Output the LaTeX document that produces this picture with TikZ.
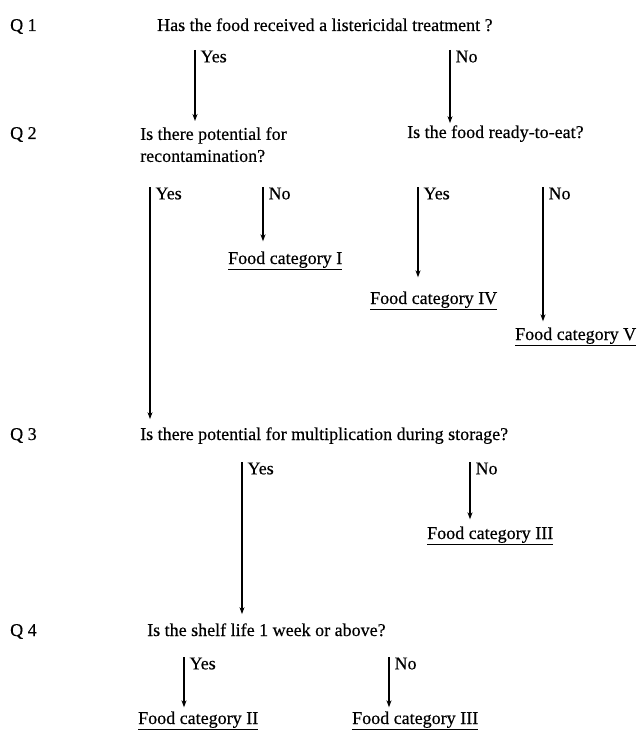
\documentclass[tikz,border=0pt]{standalone}
\usepackage{fontspec}
\setmainfont{Liberation Serif}[FakeBold=0.4]
\usetikzlibrary{arrows.meta}
\begin{document}
\begin{tikzpicture}[x=1pt,y=-1pt,
  txt/.style={anchor=base west,inner sep=0pt,font=\fontsize{18}{22}\selectfont},
  arr/.style={line width=1.1pt,-{Stealth[length=7pt,width=5pt]}},
  lab/.style={anchor=north west,inner sep=0pt,xshift=5pt,font=\fontsize{18}{22}\selectfont}]
\fill[white] (0,0) rectangle (640,730);
\useasboundingbox (0,0) rectangle (640,730);
% question labels
\node[txt] (l1) at (10,31) {Q 1};
\node[txt] (l2) at (10,139) {Q 2};
\node[txt] (l3) at (10,440) {Q 3};
\node[txt] (l4) at (10,636) {Q 4};
% questions
\node[txt] (q1) at (157,31) {Has the food received a listericidal treatment ?};
\node[anchor=north west,inner sep=0pt,align=left,font=\fontsize{18}{22}\selectfont] (q2a) at (140,127) {Is there potential for\\recontamination?};
\node[txt] (q2b) at (407,138) {Is the food ready-to-eat?};
\node[txt] (q3) at (140,440) {Is there potential for multiplication during storage?};
\node[txt] (q4) at (147,636) {Is the shelf life 1 week or above?};
% categories
\node[txt] (c1) at (228,264) {\underline{Food category I}};
\node[txt] (c4) at (370,304) {\underline{Food category IV}};
\node[txt] (c5) at (515,340) {\underline{Food category V}};
\node[txt] (c3a) at (427,539) {\underline{Food category III}};
\node[txt] (c2) at (138,724) {\underline{Food category II}};
\node[txt] (c3b) at (352,724) {\underline{Food category III}};
% arrow starts
\coordinate (s1) at (195,50);
\coordinate (s2) at (450,50);
\coordinate (s3) at (150,187);
\coordinate (s4) at (263,187);
\coordinate (s5) at (418,187);
\coordinate (s6) at (543,187);
\coordinate (s7) at (242,462);
\coordinate (s8) at (470,462);
\coordinate (s9) at (184,657);
\coordinate (s10) at (389,657);
% connectors
\draw[arr,shorten >=6pt] (s1) -- node[lab,pos=0]{Yes} (s1 |- q2a.north);
\draw[arr,shorten >=2pt] (s2) -- node[lab,pos=0]{No} (s2 |- q2b.north);
\draw[arr,shorten >=8pt] (s3) -- node[lab,pos=0]{Yes} (s3 |- q3.north);
\draw[arr,shorten >=10pt] (s4) -- node[lab,pos=0]{No} (s4 |- c1.north);
\draw[arr,shorten >=14pt] (s5) -- node[lab,pos=0]{Yes} (s5 |- c4.north);
\draw[arr,shorten >=6pt] (s6) -- node[lab,pos=0]{No} (s6 |- c5.north);
\draw[arr,shorten >=9pt] (s7) -- node[lab,pos=0]{Yes} (s7 |- q4.north);
\draw[arr,shorten >=7pt] (s8) -- node[lab,pos=0]{No} (s8 |- c3a.north);
\draw[arr,shorten >=4pt] (s9) -- node[lab,pos=0]{Yes} (s9 |- c2.north);
\draw[arr,shorten >=4pt] (s10) -- node[lab,pos=0]{No} (s10 |- c3b.north);
\end{tikzpicture}
\end{document}
